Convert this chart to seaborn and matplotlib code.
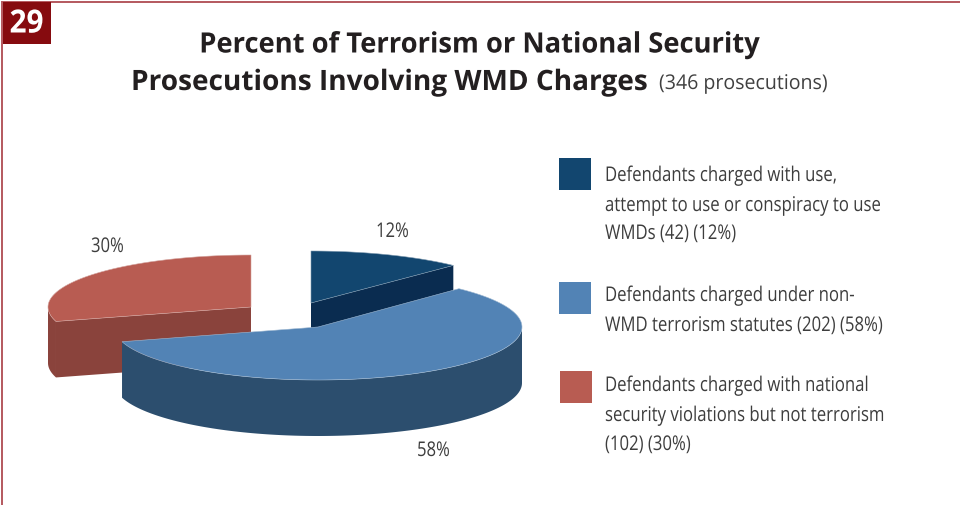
import numpy as np
import matplotlib
matplotlib.use("Agg")
import matplotlib.pyplot as plt
from matplotlib.patches import Rectangle
from matplotlib.text import Text
from matplotlib.textpath import TextPath
from matplotlib.transforms import Affine2D, Bbox, IdentityTransform
import seaborn as sns

counts = [42, 202, 102]
pct_labels = ["12%", "58%", "30%"]
legend_lines = [
    ["Defendants charged with use,", "attempt to use or conspiracy to use", "WMDs (42) (12%)"],
    ["Defendants charged under non-", "WMD terrorism statutes (202) (58%)"],
    ["Defendants charged with national", "security violations but not terrorism", "(102) (30%)"],
]
title_1 = "Percent of Terrorism or National Security"
title_2 = "Prosecutions Involving WMD Charges"
title_note = "(346 prosecutions)"
badge = "29"

top_colors = ["#12466f", "#5283b5", "#b85c52"]
side_colors = ["#0a2c50", "#2c4e6e", "#8a433c"]

sns.set_theme(style="white")
plt.rcParams["font.family"] = ["Open Sans", "DejaVu Sans"]


class FittedText(Text):
    """Real text, set condensed horizontally by the factor `squeeze`; y is the baseline."""

    def __init__(self, x, y, s, squeeze=1.0, **kw):
        super().__init__(x, y, s, va="baseline", **kw)
        self.squeeze = squeeze

    def _glyphs(self):
        px = self.get_fontsize() * self.get_figure().dpi / 72
        path = TextPath((0, 0), self.get_text(), size=px, prop=self.get_fontproperties())
        x, y = self.get_transform().transform(self.get_position())
        w = path.get_extents().x1 * self.squeeze
        if self.get_ha() == "center":
            x -= w / 2
        return path.transformed(Affine2D().scale(self.squeeze, 1).translate(x, y))

    def draw(self, renderer):
        gc = renderer.new_gc()
        gc.set_antialiased(True)
        gc.set_linewidth(0)
        renderer.draw_path(gc, self._glyphs(), IdentityTransform(),
                           matplotlib.colors.to_rgb(self.get_color()))
        gc.restore()

    def get_window_extent(self, renderer=None, dpi=None):
        return Bbox(self._glyphs().get_extents().get_points())


def label(x, y, s, **kw):
    t = FittedText(x, y, s, **kw)
    ax.add_artist(t)
    return t


fig = plt.figure(figsize=(9.6, 5.06), dpi=100)
ax = fig.add_axes([0, 0, 1, 1])
ax.set_xlim(0, 960)
ax.set_ylim(506, 0)
ax.axis("off")

palette = sns.color_palette(top_colors)
side_palette = sns.color_palette(side_colors)

shares = np.array(counts) / sum(counts) * 2 * np.pi
ends = np.cumsum(shares)
starts = ends - shares

# centre x, centre y, half width, half height of each exploded slice
geom = [(311, 304, 206, 52), (318, 328, 204, 53), (251, 308, 203, 52)]
depth = 56


def arc(i, t0, t1, n=120):
    cx, cy, a, b = geom[i]
    t = np.linspace(t0, t1, n)
    return cx + a * np.sin(t), cy - b * np.cos(t)


def extrude(i, x, y):
    ax.fill(np.r_[x, x[::-1]], np.r_[y, y[::-1] + depth],
            color=side_palette[i], lw=0, zorder=1 + i * 0.1 + (1 if i == 1 else 0))


def top(i):
    cx, cy, *_ = geom[i]
    x, y = arc(i, starts[i], ends[i])
    z = 2 + i * 0.1 + (1 if i == 1 else 0)
    ax.fill(np.r_[cx, x], np.r_[cy, y], facecolor=palette[i],
            edgecolor=sns.light_palette(palette[i], 3)[1], lw=0.4, zorder=z)


# red slice: radial face and the small bit of rim to its left
cx, cy, *_ = geom[2]
ex, ey = arc(2, starts[2], starts[2], 2)
extrude(2, np.array([ex[0], cx]), np.array([ey[0], cy]))
rx, ry = arc(2, starts[2], 1.5 * np.pi, 20)
extrude(2, rx, ry)
top(2)

# dark slice: radial face
cx, cy, *_ = geom[0]
ex, ey = arc(0, ends[0], ends[0], 2)
extrude(0, np.array([cx, ex[0]]), np.array([cy, ey[0]]))
top(0)

# large slice: front rim
rx, ry = arc(1, 0.5 * np.pi, ends[1], 120)
extrude(1, rx, ry)
top(1)

# frame and badge
frame = "#b4585e"
ax.plot([2, 2, 960], [506, 3, 3], color=frame, lw=1.4, zorder=5, solid_joinstyle="miter")
ax.add_patch(Rectangle((3, 3), 48, 42, color="#860b0f", lw=0, zorder=6))
label(26, 33.5, badge, color="white", fontsize=23, fontweight="bold", ha="center", squeeze=0.93).set_zorder(7)

# title
title_c = "#231f20"
label(479.5, 53.5, title_1, color=title_c, fontsize=20.2, fontweight="bold", ha="center", squeeze=0.975)
label(131, 91, title_2, color=title_c, fontsize=20.2, fontweight="bold", squeeze=0.998)
label(659, 90, title_note, color="#404040", fontsize=14.6, squeeze=0.965)

# percent labels
text_c = "#3d3d3d"
for s, (x, y) in zip(pct_labels, [(392, 238), (433, 457), (107, 253)]):
    label(x, y, s, color=text_c, fontsize=14.6, ha="center", squeeze=0.82)

# legend
swatches = [(559, 159), (559, 283), (560, 372)]
line_y = [[182, 212, 240], [302, 332], [392, 422, 451]]
for i, lines in enumerate(legend_lines):
    ax.add_patch(Rectangle(swatches[i], 32, 32, color=palette[i], lw=0))
    for s, y in zip(lines, line_y[i]):
        label(605, y, s, color=text_c, fontsize=14.6, squeeze=0.825)

fig.savefig("out.png", dpi=100, facecolor="white")
